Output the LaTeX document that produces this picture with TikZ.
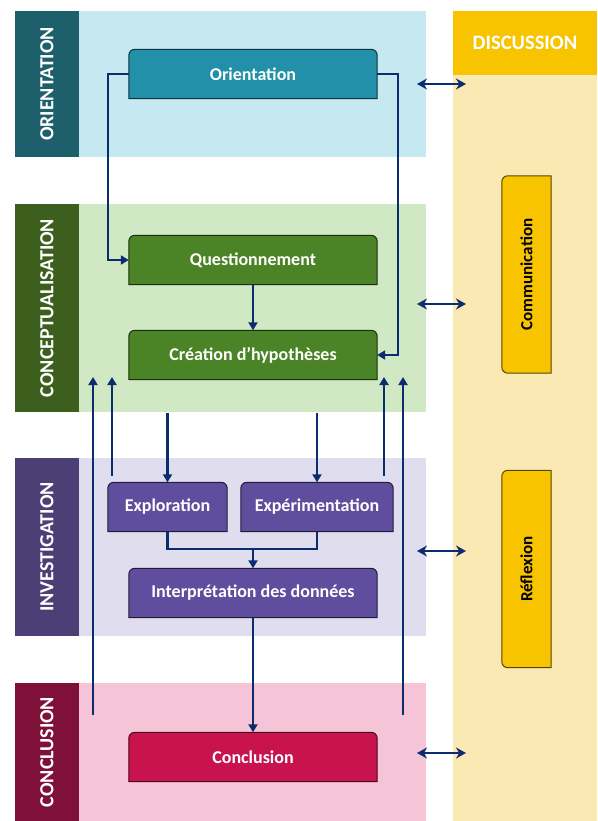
\documentclass[tikz,border=0pt]{standalone}
\usepackage{fontspec}
\setmainfont{Carlito}
\usetikzlibrary{arrows.meta,backgrounds}
\definecolor{navy}{HTML}{0C2C70}
\definecolor{orBar}{HTML}{1D5F6B}
\definecolor{orBand}{HTML}{C6E9F1}
\definecolor{orBox}{HTML}{2190A8}
\definecolor{coBar}{HTML}{3D5F1E}
\definecolor{coBand}{HTML}{D0E8C4}
\definecolor{coBox}{HTML}{4B8426}
\definecolor{inBar}{HTML}{4B3F76}
\definecolor{inBand}{HTML}{E0DEEE}
\definecolor{inBox}{HTML}{5F4E9E}
\definecolor{clBar}{HTML}{7F1038}
\definecolor{clBand}{HTML}{F5C4D6}
\definecolor{clBox}{HTML}{C8134F}
\definecolor{diHead}{HTML}{F8C400}
\definecolor{diBand}{HTML}{FBE9B3}
\pgfdeclarelayer{bands}
\pgfdeclarelayer{boxes}
\pgfsetlayers{bands,boxes,main}
\newcommand\mytopbox[2]{%
\begin{pgfonlayer}{boxes}
\draw[fill=#2,draw=black!65!#2,line width=1pt] (#1.south west) [rounded corners=6pt] -- (#1.north west) -- (#1.north east) [sharp corners] -- (#1.south east) -- cycle;
\end{pgfonlayer}}
\begin{document}
\begin{tikzpicture}[x=1pt,y=-1pt,
  barlabel/.style={rotate=90,inner sep=0pt,text=white,font=\fontsize{20}{24}\selectfont\bfseries,minimum height=64pt},
  stepbox/.style={inner sep=0pt,text=white,font=\fontsize{18}{22}\selectfont\bfseries,minimum height=49pt},
  sidebox/.style={rotate=90,inner sep=0pt,text=black,font=\fontsize{17}{20}\selectfont\bfseries,minimum height=49pt,minimum width=197pt},
  arr/.style={draw=navy,line width=2.5pt,-{Triangle[length=8pt,width=9pt]}},
  ln/.style={draw=navy,line width=2.5pt},
  dbl/.style={draw=navy,line width=2.5pt,{Stealth[length=10pt,width=11pt]}-{Stealth[length=10pt,width=11pt]}}]
\useasboundingbox (0,0) rectangle (597,821);
% bands
\begin{pgfonlayer}{bands}
\fill[orBand] (79,11) rectangle (426,157);
\fill[coBand] (79,204) rectangle (426,412);
\fill[inBand] (79,458) rectangle (426,636);
\fill[clBand] (79,683) rectangle (426,821);
\fill[diBand] (453,75) rectangle (597,821);
\end{pgfonlayer}
% bar labels
\node[barlabel,fill=orBar,minimum width=146pt] (bor) at (47,84) {ORIENTATION};
\node[barlabel,fill=coBar,minimum width=208pt] (bco) at (47,308) {CONCEPTUALISATION};
\node[barlabel,fill=inBar,minimum width=178pt] (bin) at (47,547) {INVESTIGATION};
\node[barlabel,fill=clBar,minimum width=138pt] (bcl) at (47,752) {CONCLUSION};
\node[inner sep=0pt,fill=diHead,text=white,font=\fontsize{20.5}{24}\selectfont\bfseries,minimum width=144pt,minimum height=64pt] (disc) at (525,43) {DISCUSSION};
% step boxes
\node[stepbox,minimum width=248pt] (o) at (253,74) {Orientation};
\node[stepbox,minimum width=248pt] (q) at (253,260) {Questionnement};
\node[stepbox,minimum width=248pt] (h) at (253,355) {Création d’hypothèses};
\node[stepbox,minimum width=119pt] (ex) at (167.5,507) {Exploration};
\node[stepbox,minimum width=152pt] (xp) at (317,507) {Expérimentation};
\node[stepbox,minimum width=248pt] (ip) at (253,593) {Interprétation des données};
\node[stepbox,minimum width=248pt] (cc) at (253,757) {Conclusion};
\mytopbox{o}{orBox}
\mytopbox{q}{coBox}
\mytopbox{h}{coBox}
\mytopbox{ex}{inBox}
\mytopbox{xp}{inBox}
\mytopbox{ip}{inBox}
\mytopbox{cc}{clBox}
% side boxes
\node[sidebox] (com) at (526.5,274.5) {Communication};
\node[sidebox] (ref) at (526.5,569) {Réflexion};
\mytopbox{com}{diHead}
\mytopbox{ref}{diHead}
% connectors
\coordinate (ol) at (108,74);
\coordinate (or) at (398,74);
\draw[arr] (o.west) -- (ol) |- (q.west);
\draw[arr] (o.east) -- (or) |- (h.east);
\draw[arr] (q.south) -- (h.north);
\coordinate (g1) at (167.5,413);
\coordinate (g2) at (317,413);
\draw[arr] (g1) -- (ex.north);
\draw[arr] (g2) -- (xp.north);
\coordinate (m) at (253,549);
\draw[ln] (ex.south) |- (m);
\draw[ln] (xp.south) |- (m);
\draw[arr] (m) -- (ip.north);
\draw[arr] (ip.south) -- (cc.north);
% up arrows
\coordinate (u1s) at (93,715); \coordinate (u1e) at (93,377);
\coordinate (u2s) at (112,476); \coordinate (u2e) at (112,377);
\coordinate (u3s) at (384,476); \coordinate (u3e) at (384,377);
\coordinate (u4s) at (403,715); \coordinate (u4e) at (403,377);
\draw[arr] (u1s) -- (u1e);
\draw[arr] (u2s) -- (u2e);
\draw[arr] (u3s) -- (u3e);
\draw[arr] (u4s) -- (u4e);
% discussion double arrows
\coordinate (d1a) at (417,84); \coordinate (d1b) at (466,84);
\coordinate (d2a) at (417,304); \coordinate (d2b) at (466,304);
\coordinate (d3a) at (417,551); \coordinate (d3b) at (466,551);
\coordinate (d4a) at (417,753); \coordinate (d4b) at (466,753);
\draw[dbl] (d1a) -- (d1b);
\draw[dbl] (d2a) -- (d2b);
\draw[dbl] (d3a) -- (d3b);
\draw[dbl] (d4a) -- (d4b);
\end{tikzpicture}
\end{document}
